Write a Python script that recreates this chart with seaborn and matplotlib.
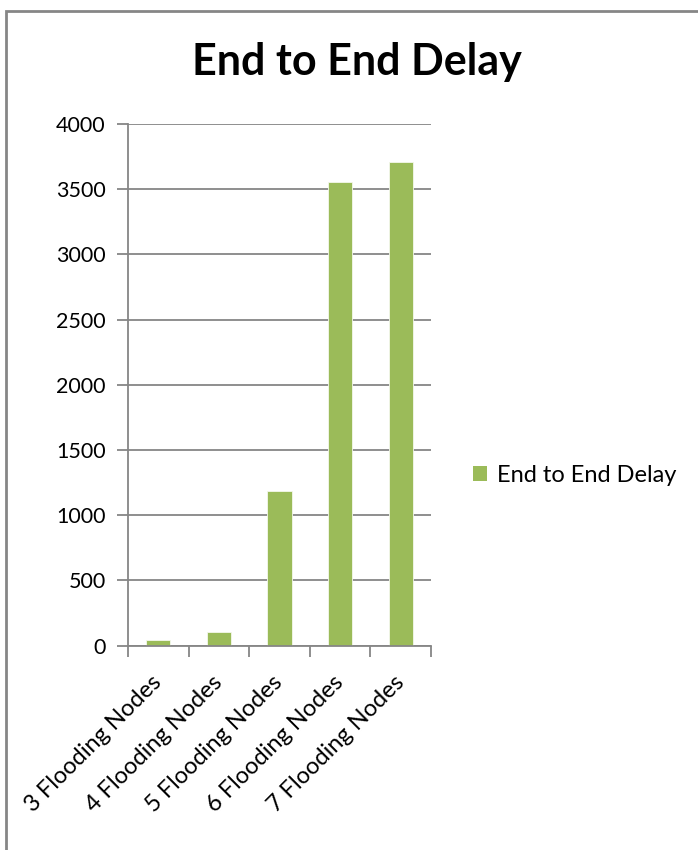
import matplotlib
matplotlib.use("Agg")
import matplotlib.pyplot as plt
import seaborn as sns
import pandas as pd
from matplotlib.patches import Rectangle, Patch

categories = ["3 Flooding Nodes", "4 Flooding Nodes", "5 Flooding Nodes",
              "6 Flooding Nodes", "7 Flooding Nodes"]
delay = [40, 100, 1182, 3556, 3708]
series_name = "End to End Delay"
y_ticks = [0, 500, 1000, 1500, 2000, 2500, 3000, 3500, 4000]

BAR = "#9BBB59"
GRID = "#868686"
FONT = "Lato"

sns.set_theme(style="white")
plt.rcParams["font.family"] = [FONT, "DejaVu Sans"]
plt.rcParams["text.color"] = "black"

df = pd.DataFrame({"category": categories, "delay": delay, "series": series_name})

W, H = 698, 850
fig = plt.figure(figsize=(W / 100, H / 100), dpi=100)
ax = fig.add_axes([128 / W, 1 - 645.5 / H, (431 - 128) / W, (645.5 - 124) / H])

sns.barplot(data=df, x="category", y="delay", hue="series", palette=[BAR],
            saturation=1, width=0.4, edgecolor="#f4f8ec", linewidth=0.6,
            ax=ax, legend=False)

ax.set_ylim(0, 4000)
ax.set_xlim(-0.5, len(categories) - 0.5)
ax.set_yticks(y_ticks)
ax.set_yticklabels([str(v) for v in y_ticks])
ax.yaxis.grid(True, color=GRID, linewidth=1.3)
ax.set_axisbelow(True)
ax.set_xlabel("")
ax.set_ylabel("")

for side in ("top", "right"):
    ax.spines[side].set_visible(False)
for side in ("left", "bottom"):
    ax.spines[side].set_color(GRID)
    ax.spines[side].set_linewidth(1.3)

# Category ticks sit at the boundaries between bars
ax.set_xticks([i - 0.5 for i in range(len(categories) + 1)], minor=True)
ax.tick_params(axis="x", which="minor", length=8, width=1.3, color=GRID, bottom=True)
ax.tick_params(axis="x", which="major", length=0, pad=24)
ax.tick_params(axis="y", length=8, width=1.3, color=GRID, left=True, pad=8)
ax.set_xticks(range(len(categories)))
ax.set_xticklabels(categories, rotation=45, ha="right", rotation_mode="anchor",
                   va="center", fontsize=17, color="black")
for lbl in ax.get_yticklabels():
    lbl.set_fontsize(15.5)
    lbl.set_color("black")

fig.text(357 / W, 1 - 62 / H, series_name, ha="center", va="center",
         fontsize=31, fontweight="bold", color="black")

leg = ax.legend(handles=[Patch(facecolor=BAR, edgecolor="none", label=series_name)],
                loc="center left", bbox_to_anchor=(473 / W, 1 - 475 / H),
                bbox_transform=fig.transFigure, frameon=False, fontsize=17,
                handlelength=0.58, handleheight=0.58, handletextpad=0.45,
                borderaxespad=0, borderpad=0)
for t in leg.get_texts():
    t.set_color("black")

# Chart frame around the figure area
fig.patches.append(Rectangle((6 / W, -0.1), 1.2, 1 - 11 / H + 0.1,
                             transform=fig.transFigure, fill=False,
                             edgecolor=GRID, linewidth=2))

fig.savefig("out.png", dpi=100, facecolor="white")
